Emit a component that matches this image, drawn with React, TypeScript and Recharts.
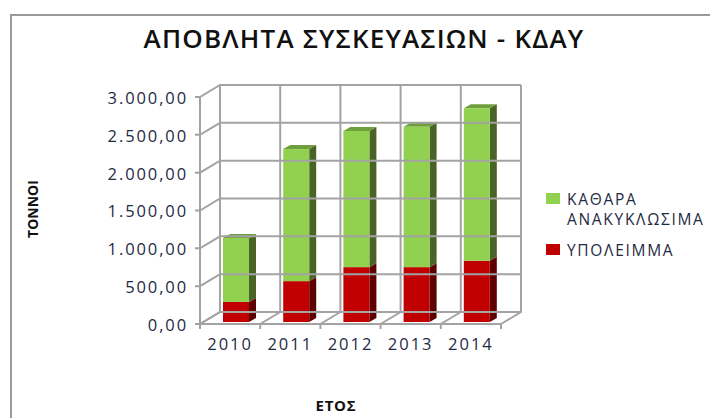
import { BarChart, XAxis, YAxis, Bar, ReferenceLine, Legend } from "recharts";

const years = ["2010", "2011", "2012", "2013", "2014"];
const residue = [265, 540, 725, 725, 810];
const recyclable = [845, 1745, 1800, 1855, 2015];
const yTicks = [0, 500, 1000, 1500, 2000, 2500, 3000];

const rows = years.map((year, i) => ({ year, residue: residue[i], recyclable: recyclable[i] }));

const GRID = "#a3a3a3";
const DEPTH_X = 20;
const DEPTH_Y = 12;
const BAND = 60.2;
const FONT = "'Open Sans', sans-serif";

function fmt(v: number) {
  const whole = Math.floor(v).toString().replace(/\B(?=(\d{3})+$)/g, ".");
  return `${whole},00`;
}

// back wall line plus the diagonal on the side wall
function WallLine(p: any) {
  return (
    <g stroke={GRID} strokeWidth={2} fill="none">
      <path d={`M${p.x1 - 5},${p.y1 + 0} L${p.x1},${p.y1} L${p.x1 + DEPTH_X},${p.y1 - DEPTH_Y} L${p.x2 + DEPTH_X},${p.y1 - DEPTH_Y}`} />
    </g>
  );
}

// wall verticals sit on the category boundaries, so step half a band from the centre
function Boundary(last: boolean) {
  return function BoundaryLine(p: any) {
    const left = p.x1 - BAND / 2;
    const edges = last ? [left, left + BAND] : [left];
    const top = Math.min(p.y1, p.y2);
    const bottom = Math.max(p.y1, p.y2);
    return (
      <g stroke={GRID} strokeWidth={2} fill="none">
        {edges.map((x) => (
          <path
            key={x}
            d={`M${x},${bottom + 5} L${x},${bottom} L${x + DEPTH_X},${bottom - DEPTH_Y} L${x + DEPTH_X},${top - DEPTH_Y}`}
          />
        ))}
      </g>
    );
  };
}

function Box3D(p: any & { side: string; cap?: string }) {
  const { x, y, width, height, fill, side, cap } = p;
  const dx = 7;
  const dy = 4;
  const fx = x + 6;
  const fy = y - 2;
  return (
    <g>
      <path d={`M${fx + width},${fy} l${dx},${-dy} v${height} l${-dx},${dy} Z`} fill={side} />
      {cap && <path d={`M${fx},${fy} l${dx},${-dy} h${width} l${-dx},${dy} Z`} fill={cap} />}
      <rect x={fx} y={fy} width={width} height={height} fill={fill} />
    </g>
  );
}

function LegendBox({ payload }: any) {
  return (
    <div style={{ fontFamily: FONT, fontSize: 15.5, lineHeight: "20px", color: "#1f2a44", letterSpacing: 1.7 }}>
      {(payload ?? []).map((it: any, i: number) => (
        <div key={it.value} style={{ display: "flex", alignItems: "flex-start", marginBottom: i === 0 ? 11 : 0 }}>
          <span style={{ width: 14, height: 11, marginTop: 4, marginRight: 7, background: it.color, flex: "none" }} />
          <span>{it.value}</span>
        </div>
      ))}
    </div>
  );
}

export default function App() {
  return (
    <div style={{ position: "fixed", left: 0, top: 0, width: 710, height: 418, background: "#fff", overflow: "hidden" }}>
      <div style={{ position: "absolute", left: 10, top: 14, width: 720, height: 420, border: "2px solid #9a9a9a", boxSizing: "border-box" }} />
      <div style={{ position: "absolute", left: 0, top: 0 }}>
        <BarChart width={710} height={418} data={rows} margin={{ top: 97, right: 209, left: 0, bottom: 0 }} barSize={26}>
          <text x={364} y={48} textAnchor="middle" fontFamily={FONT} fontSize={26} fontWeight={600} fill="#111" letterSpacing={1.2}>
            ΑΠΟΒΛΗΤΑ ΣΥΣΚΕΥΑΣΙΩΝ - ΚΔΑΥ
          </text>
          <text x={336} y={411} textAnchor="middle" fontFamily={FONT} fontSize={15} fontWeight={700} fill="#111" letterSpacing={0.8}>
            ΕΤΟΣ
          </text>
          <text
            transform="translate(38,209) rotate(-90)"
            textAnchor="middle"
            fontFamily={FONT}
            fontSize={14}
            fontWeight={700}
            fill="#111"
          >
            ΤΟΝΝΟΙ
          </text>
          <XAxis
            dataKey="year"
            height={94}
            tickLine={false}
            axisLine={{ stroke: GRID, strokeWidth: 2 }}
            tick={{ fontFamily: FONT, fontSize: 16.5, fill: "#1f2a44", letterSpacing: 2 }}
            tickMargin={8}
            interval={0}
          />
          <YAxis
            width={200}
            domain={[0, 3000]}
            ticks={yTicks}
            tickFormatter={fmt}
            tickLine={false}
            axisLine={{ stroke: GRID, strokeWidth: 2 }}
            tick={{ fontFamily: FONT, fontSize: 16.5, fill: "#1f2a44", letterSpacing: 1.9, dy: 1 }}
            tickMargin={6}
            interval={0}
          />
          {yTicks.map((t) => (
            <ReferenceLine key={t} y={t} shape={WallLine} ifOverflow="visible" />
          ))}
          {years.map((y, i) => (
            <ReferenceLine key={y} x={y} shape={Boundary(i === years.length - 1)} ifOverflow="visible" />
          ))}
          <Legend
            layout="vertical"
            verticalAlign="middle"
            align="center"
            itemSorter="dataKey"
            content={<LegendBox />}
            wrapperStyle={{ left: 546, top: 189, width: 164 }}
          />
          <Bar
            dataKey="residue"
            name="ΥΠΟΛΕΙΜΜΑ"
            stackId="a"
            fill="#c00000"
            isAnimationActive={false}
            shape={(p: any) => <Box3D {...p} side="#5e0000" />}
          />
          <Bar
            dataKey="recyclable"
            name="ΚΑΘΑΡΑ ΑΝΑΚΥΚΛΩΣΙΜΑ"
            stackId="a"
            fill="#92d050"
            isAnimationActive={false}
            shape={(p: any) => <Box3D {...p} side="#4a6427" cap="#6f9e3c" />}
          />
        </BarChart>
      </div>
    </div>
  );
}
